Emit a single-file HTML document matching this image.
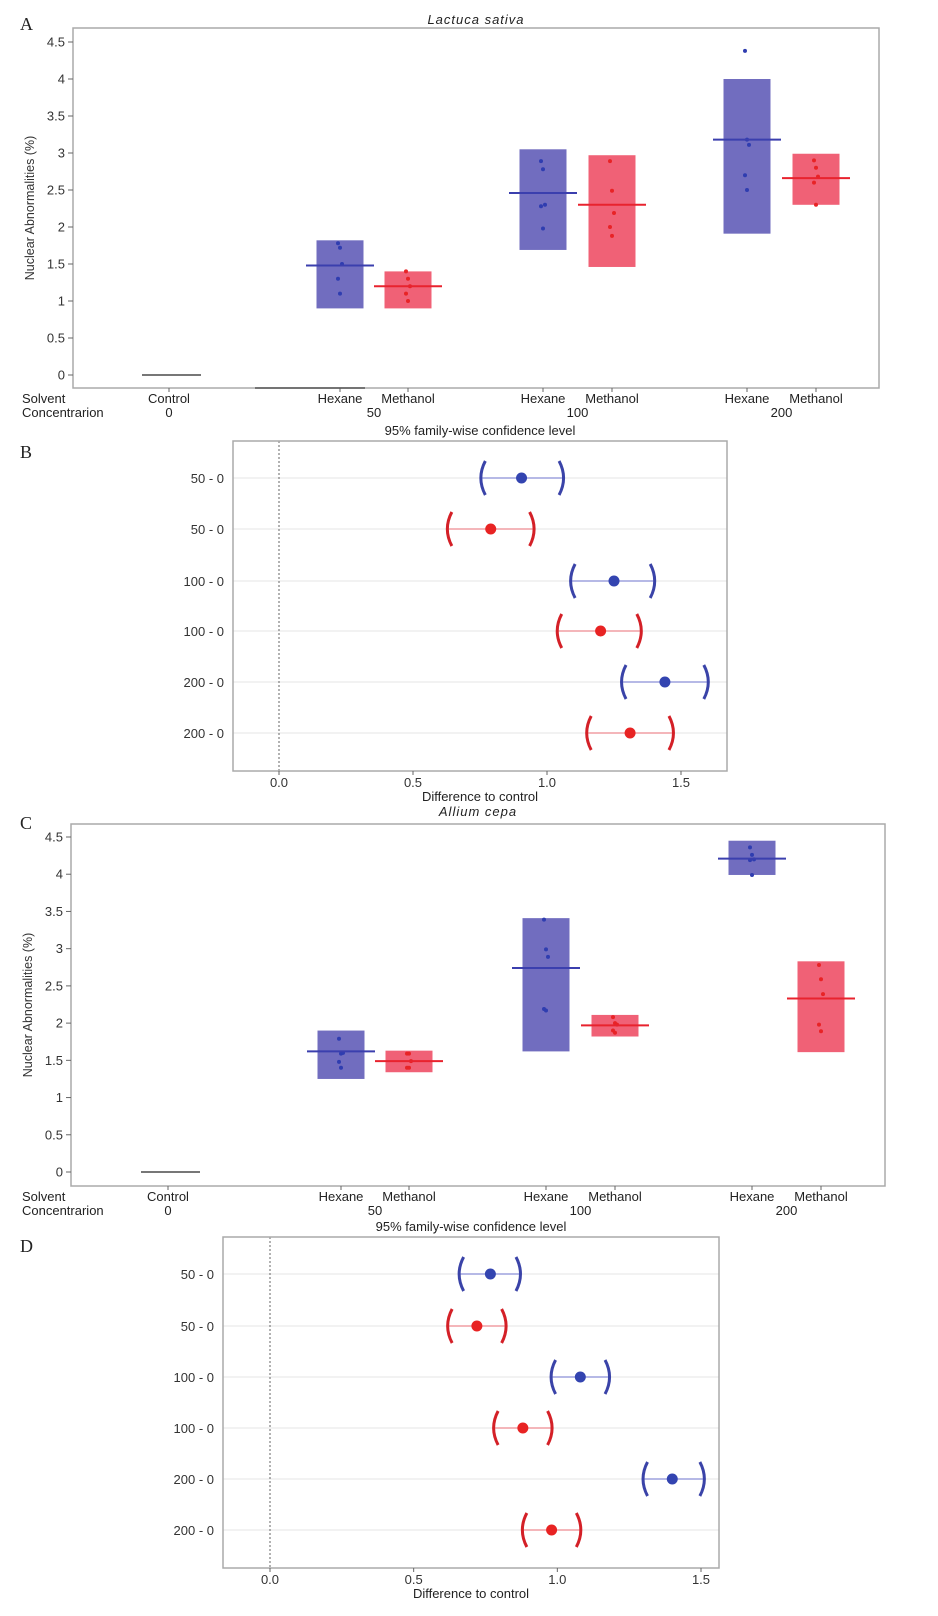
<!DOCTYPE html>
<html><head><meta charset="utf-8"><style>
html,body{margin:0;padding:0;background:#fff}
svg{display:block;font-family:"Liberation Sans",sans-serif}
</style></head><body>
<svg id="fig" width="938" height="1616" viewBox="0 0 938 1616"></svg>
<script>
// ---- Panel A data (Lactuca sativa)
const groupsA = ["Control","Hexane","Methanol","Hexane","Methanol","Hexane","Methanol"];
const concA = ["0","50","100","200"];
const aBoxLow = [0,0.9,0.9,1.69,1.46,1.91,2.3];
const aBoxHigh = [0,1.82,1.4,3.05,2.97,4.0,2.99];
const aMean = [0,1.48,1.2,2.46,2.3,3.18,2.66];
const aPoints = [[],[1.78,1.72,1.5,1.3,1.1],[1.4,1.3,1.2,1.1,1.0],[2.89,2.78,2.3,2.28,1.98],[2.89,2.49,2.19,2.0,1.88],[4.38,3.18,3.11,2.7,2.5],[2.9,2.8,2.68,2.6,2.3]];
// ---- Panel C data (Allium cepa)
const cBoxLow = [0,1.25,1.34,1.62,1.82,3.99,1.61];
const cBoxHigh = [0,1.9,1.63,3.41,2.11,4.45,2.83];
const cMean = [0,1.62,1.49,2.74,1.97,4.21,2.33];
const cPoints = [[],[1.79,1.59,1.6,1.48,1.4],[1.59,1.59,1.49,1.4,1.4],[3.39,2.99,2.89,2.19,2.17],[2.08,2.0,1.98,1.9,1.87],[4.36,4.26,4.2,4.19,3.99],[2.78,2.59,2.39,1.98,1.89]];
const yTicks = [0,0.5,1,1.5,2,2.5,3,3.5,4,4.5];
const yTickLabels = ["0","0.5","1","1.5","2","2.5","3","3.5","4","4.5"];
// ---- Panel B / D data (Tukey CIs)
const ciLabels = ["50 - 0","50 - 0","100 - 0","100 - 0","200 - 0","200 - 0"];
const bEst = [0.905,0.79,1.25,1.20,1.44,1.31];
const bLow = [0.755,0.63,1.09,1.04,1.28,1.15];
const bHigh = [1.06,0.95,1.40,1.35,1.60,1.47];
const dEst = [0.767,0.72,1.08,0.88,1.40,0.98];
const dLow = [0.66,0.62,0.98,0.78,1.30,0.88];
const dHigh = [0.87,0.82,1.18,0.98,1.51,1.08];
const xTicks = [0,0.5,1,1.5];
const xTickLabels = ["0.0","0.5","1.0","1.5"];

const NS="http://www.w3.org/2000/svg";
const svg=document.getElementById('fig');
function mk(tag,attrs,parent,text){const e=document.createElementNS(NS,tag);for(const k in attrs)e.setAttribute(k,attrs[k]);if(text!==undefined)e.textContent=text;(parent||svg).appendChild(e);return e;}
const BLUE_BOX="#716dbf",RED_BOX="#f06176",BLUE_LINE="#3b3fae",RED_LINE="#e8232e",BLUE_PT="#2f3db0",RED_PT="#e82326";

function boxPanel(o){
  const g=mk('g',{});
  
  
  const y=v=>o.y0-(o.y0-o.y45)*v/4.5;
  let t=mk('text',{x:o.lx,y:o.ly,'font-family':'Liberation Serif','font-size':18,fill:'#222'},g,o.letter);
  
  t=mk('text',{x:(o.L+o.R)/2,y:o.titleY,'font-size':13,'font-style':'italic','text-anchor':'middle','letter-spacing':'1',fill:'#222'},g,o.title);
  
  const fr=mk('rect',{x:o.L,y:o.T,width:o.R-o.L,height:o.B-o.T,fill:'none',stroke:'#aaa','stroke-width':1.5},g);
  
  yTicks.forEach((v,i)=>{
    const tk=mk('line',{x1:o.L-5,x2:o.L,y1:y(v),y2:y(v),stroke:'#666'},g);
    
    const tl=mk('text',{x:o.L-8,y:y(v)+4.5,'font-size':13,'text-anchor':'end',fill:'#333'},g,yTickLabels[i]);
    
  });
  const yc=(o.T+o.B)/2;
  t=mk('text',{x:o.ytx,y:yc,'font-size':12.5,'text-anchor':'middle',fill:'#333',transform:`rotate(-90 ${o.ytx} ${yc})`},g,'Nuclear Abnormalities (%)');
  
  o.xs.forEach((x,i)=>{
    const blue=(i%2===1);
    if(i>0){
      const r=mk('rect',{x:x-23.5,y:y(o.hi[i]),width:47,height:y(o.lo[i])-y(o.hi[i]),fill:blue?BLUE_BOX:RED_BOX},g);
      
      o.pts[i].forEach((p,j)=>{
        const c=mk('circle',{cx:x+((j%3)-1)*2,cy:y(p),r:2,fill:blue?BLUE_PT:RED_PT},g);
        
      });
    }
    const ml=mk('line',{x1:x-(i?34:27),x2:x+(i?34:32),y1:y(o.mean[i]),y2:y(o.mean[i]),stroke:i===0?'#777':(blue?BLUE_LINE:RED_LINE),'stroke-width':2},g);
    
    const tk=mk('line',{x1:x,x2:x,y1:o.B,y2:o.B+4,stroke:'#666'},g);
    
    const sl=mk('text',{x:x,y:o.B+15,'font-size':13,'text-anchor':'middle',fill:'#222'},g,groupsA[i]);
    
  });
  [o.xs[0],(o.xs[1]+o.xs[2])/2,(o.xs[3]+o.xs[4])/2,(o.xs[5]+o.xs[6])/2].forEach((x,i)=>{
    const cl=mk('text',{x:x,y:o.B+29,'font-size':13,'text-anchor':'middle',fill:'#222'},g,o.conc[i]);
    
  });
  t=mk('text',{x:22,y:o.B+15,'font-size':13,fill:'#222'},g,'Solvent');
  
  t=mk('text',{x:22,y:o.B+29,'font-size':13,fill:'#222'},g,'Concentrarion');
  
}

function ciPanel(o){
  const g=mk('g',{});
  
  
  const x=v=>o.x0+(o.x15-o.x0)*v/1.5;
  let t=mk('text',{x:o.lx,y:o.ly,'font-family':'Liberation Serif','font-size':18,fill:'#222'},g,o.letter);
  
  t=mk('text',{x:(o.L+o.R)/2,y:o.T-6,'font-size':13,'text-anchor':'middle',fill:'#222'},g,'95% family-wise confidence level');
  
  o.rows.forEach((ry,i)=>{
    const gl=mk('line',{x1:o.L,x2:o.R,y1:ry,y2:ry,stroke:'#e6e6e6'},g);
    
  });
  const zl=mk('line',{x1:x(0),x2:x(0),y1:o.T,y2:o.B,stroke:'#666','stroke-dasharray':'2,2'},g);
  
  const fr=mk('rect',{x:o.L,y:o.T,width:o.R-o.L,height:o.B-o.T,fill:'none',stroke:'#aaa','stroke-width':1.5},g);
  
  o.rows.forEach((ry,i)=>{
    const blue=(i%2===0);
    const col=blue?'#3a43a8':'#d42027', lc=blue?'#8a8fd8':'#ee8a90', dc=blue?'#3344b0':'#e82323';
    const lab=mk('text',{x:o.L-9,y:ry+5,'font-size':13,'text-anchor':'end',fill:'#333'},g,ciLabels[i]);
    
    const ln=mk('line',{x1:x(o.lo[i]),x2:x(o.hi[i]),y1:ry,y2:ry,stroke:lc,'stroke-width':1.2},g);
    
    const a=x(o.lo[i]),b=x(o.hi[i]);
    const p1=mk('path',{d:`M${a+4},${ry-17} Q${a-5},${ry} ${a+4},${ry+17}`,fill:'none',stroke:col,'stroke-width':3},g);
    
    const p2=mk('path',{d:`M${b-4},${ry-17} Q${b+5},${ry} ${b-4},${ry+17}`,fill:'none',stroke:col,'stroke-width':3},g);
    
    const c=mk('circle',{cx:x(o.est[i]),cy:ry,r:5.5,fill:dc},g);
    
  });
  xTicks.forEach((v,i)=>{
    const tk=mk('line',{x1:x(v),x2:x(v),y1:o.B,y2:o.B+4,stroke:'#666'},g);
    
    const tl=mk('text',{x:x(v),y:o.B+16,'font-size':13,'text-anchor':'middle',fill:'#333'},g,xTickLabels[i]);
    
  });
  t=mk('text',{x:(o.L+o.R)/2,y:o.B+30,'font-size':13,'text-anchor':'middle',fill:'#222'},g,'Difference to control');
  
}

boxPanel({name:'panel-a-lactuca',letter:'A',lx:20,ly:30,title:'Lactuca sativa',titleY:24,L:73,R:879,T:28,B:388,y0:375,y45:42,ytx:34,
  xs:[169,340,408,543,612,747,816],lo:aBoxLow,hi:aBoxHigh,mean:aMean,pts:aPoints,conc:concA});
const dk=mk('line',{x1:255,x2:365,y1:388,y2:388,stroke:'#555','stroke-width':1.5});

ciPanel({name:'panel-b-lactuca-tukey',letter:'B',lx:20,ly:458,L:233,R:727,T:441,B:771,x0:279,x15:681,
  rows:[478,529,581,631,682,733],est:bEst,lo:bLow,hi:bHigh});
boxPanel({name:'panel-c-allium',letter:'C',lx:20,ly:829,title:'Allium cepa',titleY:816,L:71,R:885,T:824,B:1186,y0:1172,y45:837,ytx:32,
  xs:[168,341,409,546,615,752,821],lo:cBoxLow,hi:cBoxHigh,mean:cMean,pts:cPoints,conc:concA});
ciPanel({name:'panel-d-allium-tukey',letter:'D',lx:20,ly:1252,L:223,R:719,T:1237,B:1568,x0:270,x15:701,
  rows:[1274,1326,1377,1428,1479,1530],est:dEst,lo:dLow,hi:dHigh});
</script>
</body></html>
